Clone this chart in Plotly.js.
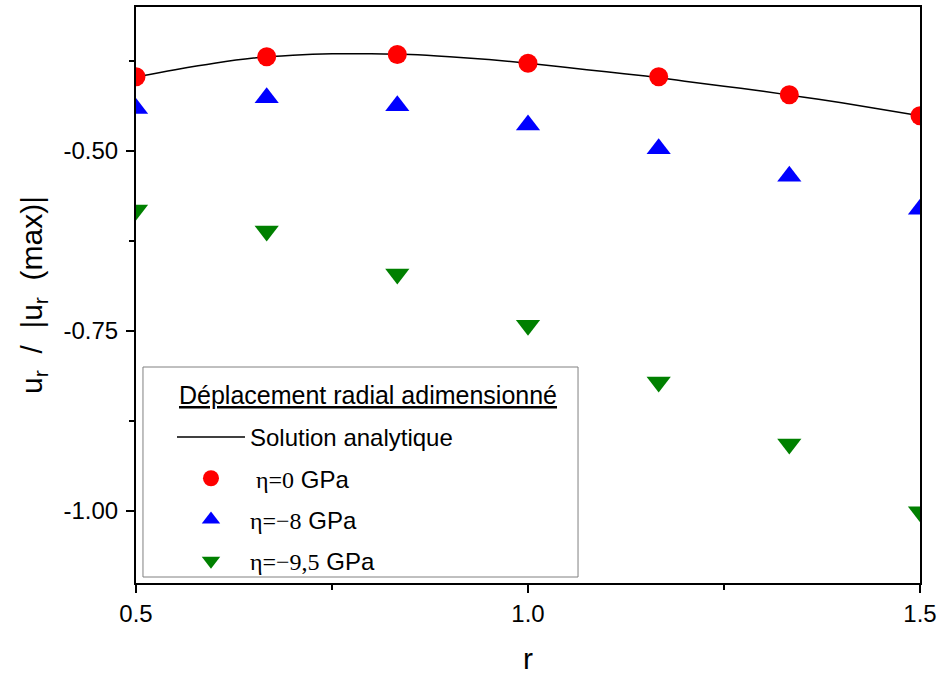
<!DOCTYPE html>
<html>
<head>
<meta charset="utf-8">
<script src="https://cdn.plot.ly/plotly-3.0.1.min.js"></script>
<style>html,body{margin:0;padding:0;background:#fff;}#chart{width:941px;height:675px;}</style>
</head>
<body>
<div id="chart"></div>
<script>
// Analytic solution curve
const rCurve = [0.50,0.55,0.60,0.65,0.70,0.75,0.80,0.85,0.90,0.95,1.00,1.05,1.10,1.15,1.20,1.25,1.30,1.35,1.40,1.45,1.50];
const uCurve = [-0.397,-0.387,-0.378,-0.371,-0.367,-0.365,-0.365,-0.366,-0.369,-0.373,-0.378,-0.384,-0.390,-0.396,-0.403,-0.410,-0.417,-0.425,-0.433,-0.442,-0.451];
// Discrete results
const rPts = [0.5,0.6667,0.8333,1.0,1.1667,1.3333,1.5];
const uEta0 = [-0.397,-0.369,-0.366,-0.378,-0.397,-0.422,-0.451];
const uEta8 = [-0.441,-0.426,-0.437,-0.464,-0.497,-0.535,-0.581];
const uEta95 = [-0.582,-0.611,-0.671,-0.742,-0.821,-0.907,-1.001];
// Tick labels
const xTickVals = [0.5,1.0,1.5];
const xTickText = ['0.5','1.0','1.5'];
const yTickVals = [-0.5,-0.75,-1.0];
const yTickText = ['-0.50','-0.75','-1.00'];
const legendTitle = 'Déplacement radial adimensionné';
const serif = "font-family:'Liberation Serif'";
const names = ['Solution analytique',
  '<span style="' + serif + '"> η=0</span> GPa',
  '<span style="' + serif + '">η=−8</span> GPa',
  '<span style="' + serif + '">η=−9,5</span> GPa'];

const sans = 'Liberation Sans, Arial, sans-serif';
const traces = [
  {x:rCurve, y:uCurve, mode:'lines', name:names[0], legendgroup:'a', line:{color:'#000', width:1.5, shape:'spline'}},
  {x:rPts, y:uEta0, mode:'markers', name:names[1], legendgroup:'b', marker:{symbol:'circle', size:19, color:'#FF0000'}},
  {x:rPts, y:uEta8, mode:'markers', name:names[2], legendgroup:'c', marker:{symbol:'triangle-up', size:21, color:'#0000FF'}},
  {x:rPts, y:uEta95, mode:'markers', name:names[3], legendgroup:'d', marker:{symbol:'triangle-down', size:21, color:'#008000'}}
];
const layout = {
  width:941, height:675,
  margin:{l:136, r:21, t:7, b:92},
  paper_bgcolor:'#fff', plot_bgcolor:'#fff',
  font:{family:sans, size:24, color:'#000'},
  showlegend:true,
  legend:{
    x:0.0459, y:0.2917, xanchor:'left', yanchor:'top',
    bgcolor:'rgba(0,0,0,0)', borderwidth:0,
    font:{family:sans, size:24, color:'#000'},
    traceorder:'grouped', tracegroupgap:7, itemwidth:68
  },
  shapes:[{type:'rect', xref:'paper', yref:'paper', x0:0.0089, x1:0.5638, y0:0.0104, y1:0.375,
    line:{color:'#808080', width:1}, fillcolor:'#fff', layer:'below'}],
  annotations:[{text:'<u>' + legendTitle + '</u>', xref:'paper', yref:'paper', x:0.0523, y:0.3264,
    xanchor:'left', yanchor:'middle', showarrow:false, font:{family:sans, size:25, color:'#000'}}],
  xaxis:{
    range:[0.5,1.5], tickvals:xTickVals, ticktext:xTickText,
    ticks:'outside', ticklen:8, tickwidth:2, tickcolor:'#000',
    minor:{tickvals:[0.75,1.25], ticks:'outside', ticklen:5, tickwidth:2, tickcolor:'#000'},
    showline:true, linewidth:2, linecolor:'#000', mirror:true,
    showgrid:false, zeroline:false,
    tickfont:{family:sans, size:24},
    title:{text:'r', font:{family:sans, size:30}, standoff:22}
  },
  yaxis:{
    range:[-1.1,-0.3], tickvals:yTickVals, ticktext:yTickText,
    ticks:'outside', ticklen:8, tickwidth:2, tickcolor:'#000',
    minor:{tickvals:[-0.375,-0.625,-0.875], ticks:'outside', ticklen:5, tickwidth:2, tickcolor:'#000'},
    showline:true, linewidth:2, linecolor:'#000', mirror:true,
    showgrid:false, zeroline:false, ticklabelstandoff:3,
    tickfont:{family:sans, size:24},
    title:{text:'u<sub>r</sub>  /  |u<sub>r</sub>  (max)|', font:{family:sans, size:30}, standoff:12}
  }
};
Plotly.newPlot('chart', traces, layout, {displayModeBar:false, staticPlot:true});
</script>
</body>
</html>
